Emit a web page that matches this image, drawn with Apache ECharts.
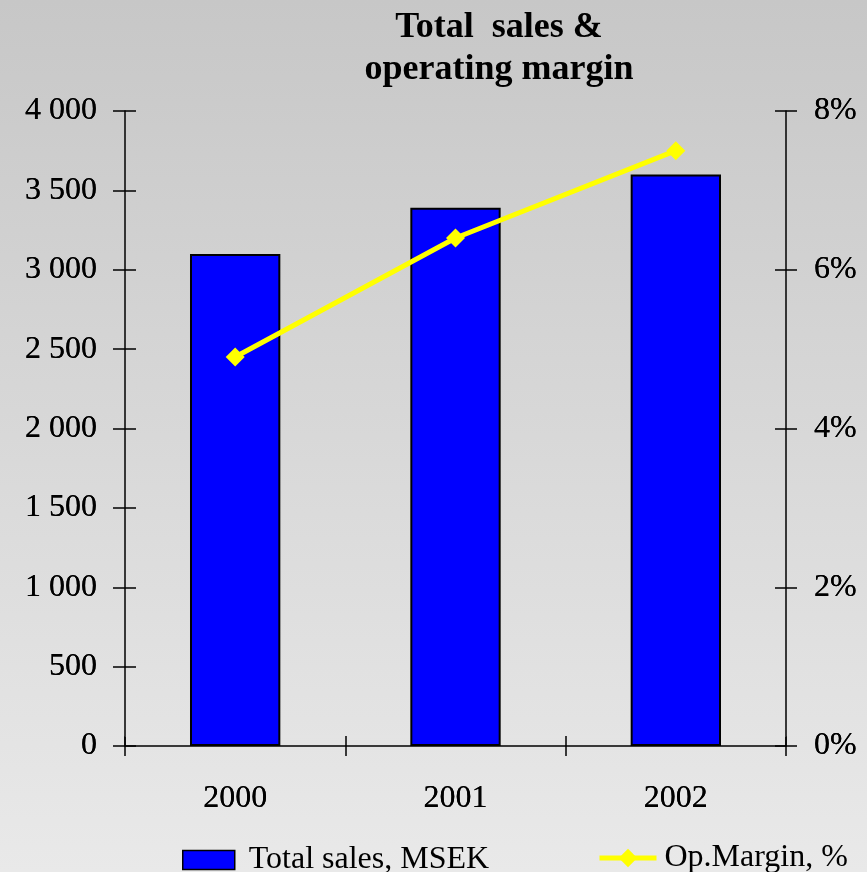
<!DOCTYPE html>
<html>
<head>
<meta charset="utf-8">
<title>Total sales & operating margin</title>
<script src="https://cdn.jsdelivr.net/npm/echarts@6/dist/echarts.min.js"></script>
<style>
  html, body { margin: 0; padding: 0; }
  #chart { width: 867px; height: 872px; }
</style>
</head>
<body>
<div id="chart"></div>
<script>
// Yearly figures
const years = ['2000', '2001', '2002'];
const totalSales = [3100, 3390, 3600];      // MSEK
const opMargin = [4.9, 6.4, 7.5];           // %

// Axis scales
const salesMin = 0, salesMax = 4000, salesStep = 500;
const marginMin = 0, marginMax = 8, marginStep = 2;

const FONT = "'Liberation Serif', 'Times New Roman', serif";
const AXIS_LINE = { show: true, onZero: false, lineStyle: { color: '#000', width: 1.5 } };

// Companion axis lines are tinted like the page background so only their ticks show.
const BG_VERTICAL = {
  type: 'linear', x: 0, y: 0, x2: 0, y2: 1,
  colorStops: [{ offset: 0, color: '#cbcbcb' }, { offset: 1, color: '#e4e4e4' }]
};
const SHADED_Y_LINE = { show: true, onZero: false, lineStyle: { color: BG_VERTICAL, width: 1 } };
const SHADED_X_LINE = { show: true, onZero: false, lineStyle: { color: '#e4e4e4', width: 1 } };

function thousands(v) {
  return String(v).replace(/\B(?=(\d{3})+(?!\d))/g, ' ');
}

function tick(len) {
  return { show: true, inside: false, length: len, lineStyle: { color: '#000', width: 1.5 } };
}

function label(margin, formatter) {
  const l = { fontFamily: FONT, fontSize: 32, color: '#000', margin: margin };
  if (formatter) l.formatter = formatter;
  return l;
}

// Each axis has a companion shifted into the plot by one tick length; its
// outward ticks end on the main axis line, so every tick crosses that line.
// The companion labels land exactly on top of the main labels.
const chart = echarts.init(document.getElementById('chart'));

chart.setOption({
  backgroundColor: {
    type: 'linear', x: 0, y: 0, x2: 0, y2: 1,
    colorStops: [
      { offset: 0, color: '#c7c7c7' },
      { offset: 1, color: '#e9e9e9' }
    ]
  },
  animation: false,
  title: {
    text: 'Total  sales &\noperating margin',
    left: 494,
    top: 2,
    textAlign: 'center',
    textStyle: {
      fontFamily: FONT, fontWeight: 'bold', fontSize: 36,
      lineHeight: 42, color: '#000'
    }
  },
  legend: [
    {
      data: [{ name: 'Total sales, MSEK', icon: 'rect' }],
      left: 177, top: 839,
      itemWidth: 52, itemHeight: 19,
      itemStyle: { borderColor: '#000', borderWidth: 1.5 },
      textStyle: { fontFamily: FONT, fontSize: 32, color: '#000', padding: [0, 0, 0, 9] }
    },
    {
      data: ['Op.Margin, %'],
      left: 592, top: 837,
      itemWidth: 57, itemHeight: 23,
      lineStyle: { width: 5, color: '#ffff00' },
      itemStyle: { color: '#ffff00' },
      textStyle: { fontFamily: FONT, fontSize: 32, color: '#000', padding: [0, 0, 0, 3] }
    }
  ],
  grid: { left: 125, right: 81, top: 111, bottom: 126, containLabel: false },
  xAxis: [
    {
      type: 'category', data: years, position: 'bottom', offset: -10,
      axisLine: SHADED_X_LINE,
      axisTick: tick(10),
      axisLabel: label(47)
    },
    {
      type: 'category', data: years, position: 'bottom',
      axisLine: AXIS_LINE,
      axisTick: tick(10),
      axisLabel: label(37)
    }
  ],
  yAxis: [
    {
      type: 'value', position: 'left',
      min: salesMin, max: salesMax, interval: salesStep,
      axisLine: AXIS_LINE,
      axisTick: tick(12),
      splitLine: { show: false },
      axisLabel: label(28, thousands)
    },
    {
      type: 'value', position: 'right',
      min: marginMin, max: marginMax, interval: marginStep,
      axisLine: AXIS_LINE,
      axisTick: tick(11),
      splitLine: { show: false },
      axisLabel: label(28, '{value}%')
    },
    {
      type: 'value', position: 'left', offset: -11,
      min: salesMin, max: salesMax, interval: salesStep,
      axisLine: SHADED_Y_LINE,
      axisTick: tick(11),
      splitLine: { show: false },
      axisLabel: label(39, thousands)
    },
    {
      type: 'value', position: 'right', offset: -11,
      min: marginMin, max: marginMax, interval: marginStep,
      axisLine: SHADED_Y_LINE,
      axisTick: tick(11),
      splitLine: { show: false },
      axisLabel: label(39, '{value}%')
    }
  ],
  series: [
    {
      name: 'Total sales, MSEK',
      type: 'bar',
      xAxisIndex: 1, yAxisIndex: 0,
      data: totalSales,
      barWidth: '41%',
      itemStyle: { color: '#0000ff', borderColor: '#000', borderWidth: 2 },
      z: 3
    },
    {
      name: 'Op.Margin, %',
      type: 'line',
      xAxisIndex: 1, yAxisIndex: 1,
      data: opMargin,
      symbol: 'diamond',
      symbolSize: 19,
      lineStyle: { color: '#ffff00', width: 5 },
      itemStyle: { color: '#ffff00' },
      z: 5
    }
  ]
});
</script>
</body>
</html>
